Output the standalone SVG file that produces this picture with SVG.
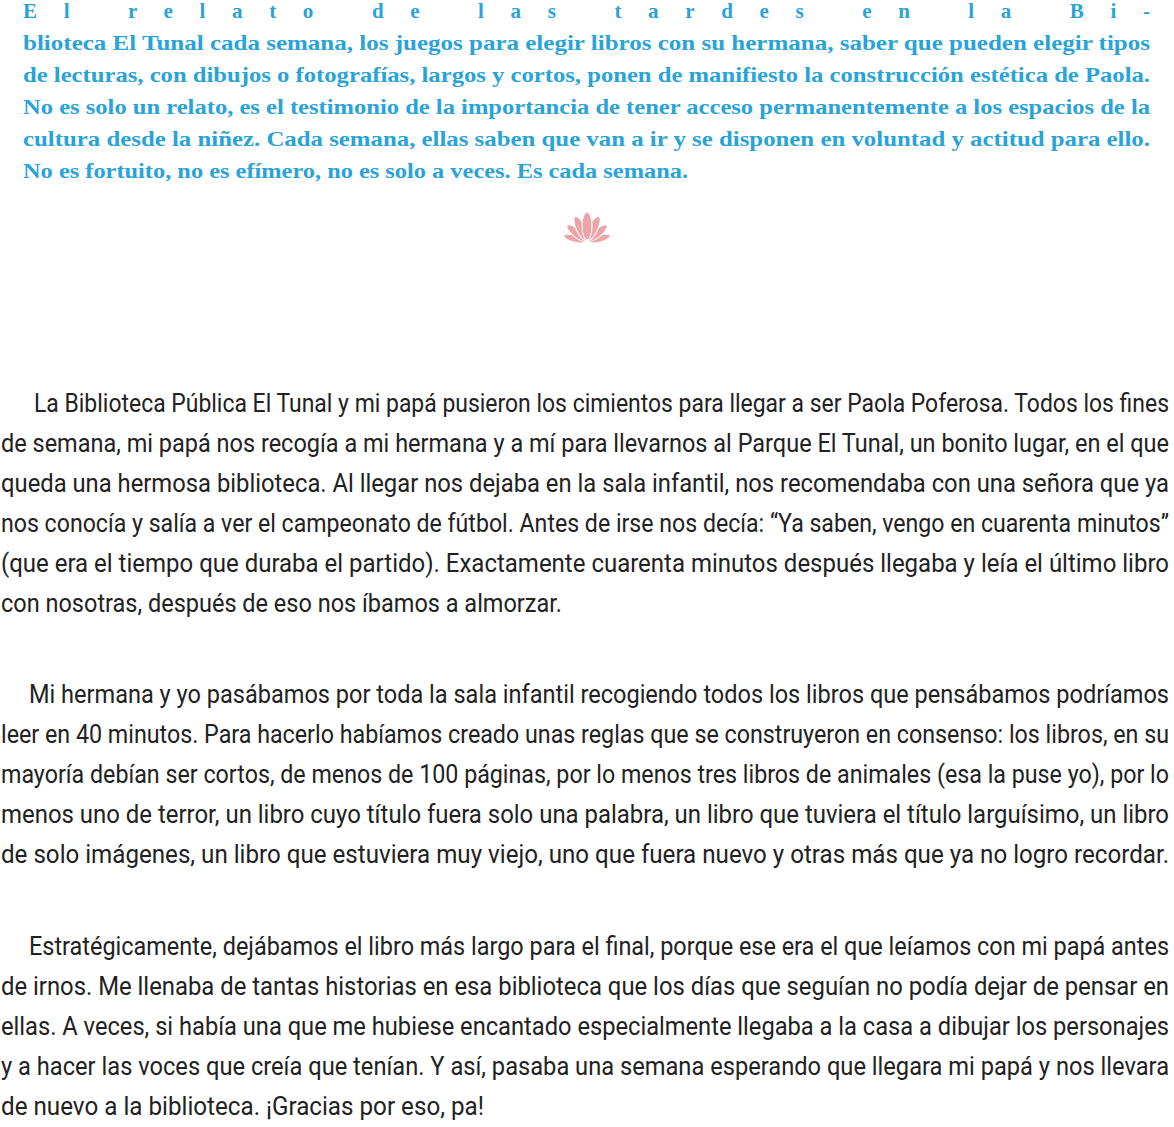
<svg xmlns="http://www.w3.org/2000/svg" width="1174" height="1127" viewBox="0 0 1174 1127">
<style>
.b{font-family:"Liberation Serif","DejaVu Serif",serif;font-weight:bold;font-size:21px;fill:#2aa3d8}
.t{font-family:"Roboto","Liberation Sans",sans-serif;font-size:25px;fill:#222}
</style>
<rect width="1174" height="1127" fill="#fff"/>
<g id="intro">
<text class="b" x="23" y="18" textLength="1127" lengthAdjust="spacing">El relato de las tardes en la Bi-</text>
<text class="b" x="23" y="50" textLength="1127" lengthAdjust="spacingAndGlyphs">blioteca El Tunal cada semana, los juegos para elegir libros con su hermana, saber que pueden elegir tipos</text>
<text class="b" x="23" y="82" textLength="1127" lengthAdjust="spacingAndGlyphs">de lecturas, con dibujos o fotografías, largos y cortos, ponen de manifiesto la construcción estética de Paola.</text>
<text class="b" x="23" y="114" textLength="1127" lengthAdjust="spacingAndGlyphs">No es solo un relato, es el testimonio de la importancia de tener acceso permanentemente a los espacios de la</text>
<text class="b" x="23" y="146" textLength="1127" lengthAdjust="spacingAndGlyphs">cultura desde la niñez. Cada semana, ellas saben que van a ir y se disponen en voluntad y actitud para ello.</text>
<text class="b" x="23" y="178" textLength="665" lengthAdjust="spacingAndGlyphs">No es fortuito, no es efímero, no es solo a veces. Es cada semana.</text>
</g>
<g id="lotus" fill="#eca4a8" stroke="#fff" stroke-width="1">
<ellipse cx="587" cy="229" rx="3.5" ry="11" transform="rotate(-75 587 242)"/>
<ellipse cx="587" cy="229" rx="3.5" ry="11" transform="rotate(75 587 242)"/>
<ellipse cx="587" cy="228" rx="4" ry="12" transform="rotate(-50 587 242)"/>
<ellipse cx="587" cy="228" rx="4" ry="12" transform="rotate(50 587 242)"/>
<ellipse cx="587" cy="227" rx="4.5" ry="13" transform="rotate(-25 587 242)"/>
<ellipse cx="587" cy="227" rx="4.5" ry="13" transform="rotate(25 587 242)"/>
<ellipse cx="587" cy="226" rx="5" ry="14"/>
</g>
<g id="body">
<text class="t" x="34" y="412" textLength="1135" lengthAdjust="spacingAndGlyphs">La Biblioteca Pública El Tunal y mi papá pusieron los cimientos para llegar a ser Paola Poferosa. Todos los fines</text>
<text class="t" x="1" y="452" textLength="1168" lengthAdjust="spacingAndGlyphs">de semana, mi papá nos recogía a mi hermana y a mí para llevarnos al Parque El Tunal, un bonito lugar, en el que</text>
<text class="t" x="1" y="492" textLength="1168" lengthAdjust="spacingAndGlyphs">queda una hermosa biblioteca. Al llegar nos dejaba en la sala infantil, nos recomendaba con una señora que ya</text>
<text class="t" x="1" y="532" textLength="1168" lengthAdjust="spacingAndGlyphs">nos conocía y salía a ver el campeonato de fútbol. Antes de irse nos decía: “Ya saben, vengo en cuarenta minutos”</text>
<text class="t" x="1" y="572" textLength="1168" lengthAdjust="spacingAndGlyphs">(que era el tiempo que duraba el partido). Exactamente cuarenta minutos después llegaba y leía el último libro</text>
<text class="t" x="1" y="612" textLength="561" lengthAdjust="spacingAndGlyphs">con nosotras, después de eso nos íbamos a almorzar.</text>
<text class="t" x="29" y="703" textLength="1140" lengthAdjust="spacingAndGlyphs">Mi hermana y yo pasábamos por toda la sala infantil recogiendo todos los libros que pensábamos podríamos</text>
<text class="t" x="1" y="743" textLength="1168" lengthAdjust="spacingAndGlyphs">leer en 40 minutos. Para hacerlo habíamos creado unas reglas que se construyeron en consenso: los libros, en su</text>
<text class="t" x="1" y="783" textLength="1168" lengthAdjust="spacingAndGlyphs">mayoría debían ser cortos, de menos de 100 páginas, por lo menos tres libros de animales (esa la puse yo), por lo</text>
<text class="t" x="1" y="823" textLength="1168" lengthAdjust="spacingAndGlyphs">menos uno de terror, un libro cuyo título fuera solo una palabra, un libro que tuviera el título larguísimo, un libro</text>
<text class="t" x="1" y="863" textLength="1168" lengthAdjust="spacingAndGlyphs">de solo imágenes, un libro que estuviera muy viejo, uno que fuera nuevo y otras más que ya no logro recordar.</text>
<text class="t" x="29" y="955" textLength="1140" lengthAdjust="spacingAndGlyphs">Estratégicamente, dejábamos el libro más largo para el final, porque ese era el que leíamos con mi papá antes</text>
<text class="t" x="1" y="995" textLength="1168" lengthAdjust="spacingAndGlyphs">de irnos. Me llenaba de tantas historias en esa biblioteca que los días que seguían no podía dejar de pensar en</text>
<text class="t" x="1" y="1035" textLength="1168" lengthAdjust="spacingAndGlyphs">ellas. A veces, si había una que me hubiese encantado especialmente llegaba a la casa a dibujar los personajes</text>
<text class="t" x="1" y="1075" textLength="1168" lengthAdjust="spacingAndGlyphs">y a hacer las voces que creía que tenían. Y así, pasaba una semana esperando que llegara mi papá y nos llevara</text>
<text class="t" x="1" y="1115" textLength="483" lengthAdjust="spacingAndGlyphs">de nuevo a la biblioteca. ¡Gracias por eso, pa!</text>
</g>
</svg>
